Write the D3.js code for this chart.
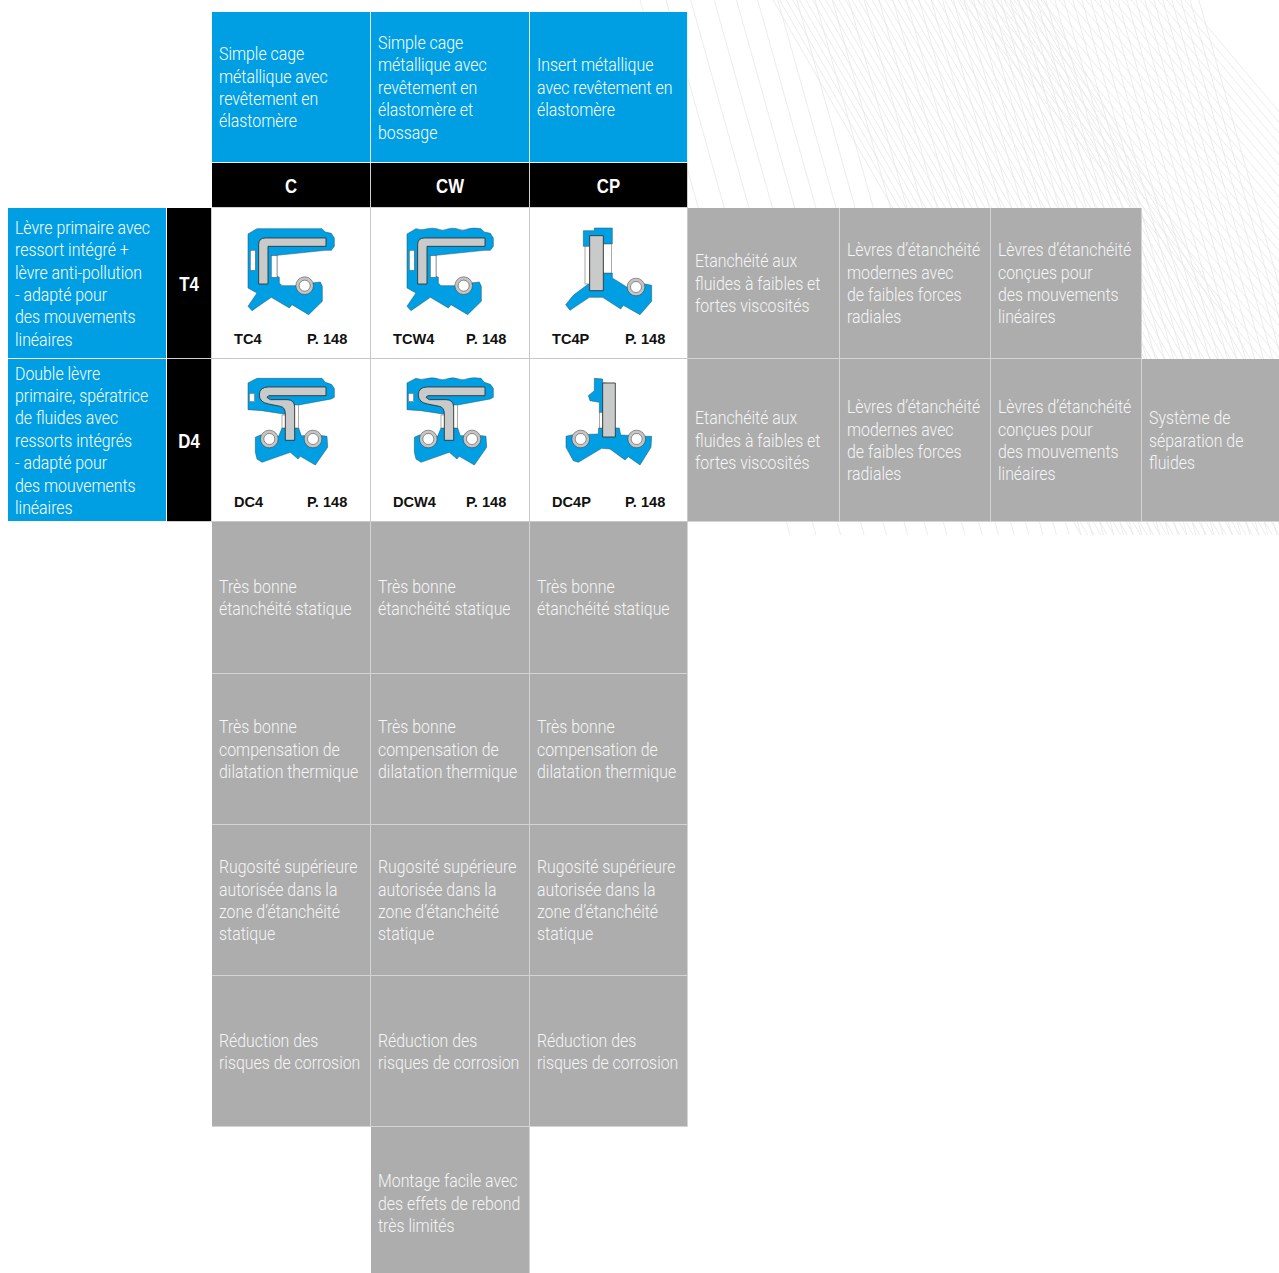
<!DOCTYPE html>
<html>
<head>
<meta charset="utf-8">
<script src="https://cdn.jsdelivr.net/npm/d3@7"></script>
<style>
  html, body { margin: 0; padding: 0; background: #fff; }
  svg { display: block; }
  .txt { font-family: Roboto, "Liberation Sans", sans-serif; font-weight: 300; font-size: 19px; fill: #fff; }
  .grey .txt { fill: #f6f6f6; }
  .key { font-family: "Liberation Sans", sans-serif; font-weight: bold; font-size: 21px; fill: #fff; text-anchor: middle; }
  .ref { font-family: "Liberation Sans", sans-serif; font-weight: bold; font-size: 14.6px; fill: #111; }
</style>
</head>
<body>
<div id="chart"></div>
<script>
const width = 1279;
const height = 1273;

// table content
const seal_types = ['C', 'CW', 'CP'];
const seal_type_texts = [
  'Simple cage\nmétallique avec\nrevêtement en\nélastomère',
  'Simple cage\nmétallique avec\nrevêtement en\nélastomère et\nbossage',
  'Insert métallique\navec revêtement en\nélastomère'
];
const lip_types = ['T4', 'D4'];
const lip_type_texts = [
  'Lèvre primaire avec\nressort intégré +\nlèvre anti-pollution\n- adapté pour\ndes mouvements\nlinéaires',
  'Double lèvre\nprimaire, spératrice\nde fluides avec\nressorts intégrés\n- adapté pour\ndes mouvements\nlinéaires'
];
const product_names = [['TC4', 'TCW4', 'TC4P'], ['DC4', 'DCW4', 'DC4P']];
const product_page = 'P. 148';
const lip_benefit_cols = ['F1', 'F2', 'F3', 'F4'];
const lip_benefits = [
  ['Etanchéité aux\nfluides à faibles et\nfortes viscosités',
   'Lèvres d’étanchéité\nmodernes avec\nde faibles forces\nradiales',
   'Lèvres d’étanchéité\nconçues pour\ndes mouvements\nlinéaires'],
  ['Etanchéité aux\nfluides à faibles et\nfortes viscosités',
   'Lèvres d’étanchéité\nmodernes avec\nde faibles forces\nradiales',
   'Lèvres d’étanchéité\nconçues pour\ndes mouvements\nlinéaires',
   'Système de\nséparation de\nfluides']
];
const benefit_rows = ['B1', 'B2', 'B3', 'B4'];
const benefit_texts = [
  'Très bonne\nétanchéité statique',
  'Très bonne\ncompensation de\ndilatation thermique',
  'Rugosité supérieure\nautorisée dans la\nzone d’étanchéité\nstatique',
  'Réduction des\nrisques de corrosion'
];
const extra_benefit = 'Montage facile avec\ndes effets de rebond\ntrès limités';

// grid lines of the table (last row runs off the page)
const col_keys = ['desc', 'lip', 'C', 'CW', 'CP', 'F1', 'F2', 'F3', 'F4', 'end'];
const col_edges = [8, 167, 212, 371, 530, 688, 840, 991, 1142, 1280];
const row_keys = ['head', 'type', 'T4', 'D4', 'B1', 'B2', 'B3', 'B4', 'B5', 'end'];
const row_edges = [12, 163, 208, 359, 522, 674, 825, 976, 1127, 1280];

const x = d3.scaleOrdinal(col_keys, col_edges);
const y = d3.scaleOrdinal(row_keys, row_edges);
const next = (keys, k) => keys[keys.indexOf(k) + 1];

const blue = '#009fe3';
const grey = '#adadad';
const line_grey = '#d4d4d4';

const svg = d3.select('#chart')
  .append('svg')
    .attr('width', width)
    .attr('height', height);

// faint line texture behind the table, top right
const bg = svg.append('g')
  .attr('fill', 'none')
  .attr('stroke', '#e7e7e7')
  .attr('stroke-width', 0.8);

let texture = (x0s, dx, y1) => {
  bg.selectAll(null)
    .data(x0s)
    .enter().append('line')
      .attr('x1', d => d)
      .attr('y1', 0)
      .attr('x2', d => d + dx)
      .attr('y2', y1);
};
// wide fan on the left, getting denser to the right
let fan = [];
let p = 640;
while (p < 1200) { fan.push(p); p += Math.max(9, 26 - (p - 640) * 0.05); }
texture(fan, 150, 535);
texture(d3.range(773, 1050, 6.6), 308, 535);
texture(d3.range(960, 1190, 9), 450, 535);

// text is squeezed sideways to get the condensed look of the original
const probe = svg.append('text').attr('class', 'txt').text('Rugosité supérieure');
const squeeze = 138.5 / probe.node().getComputedTextLength();
probe.remove();

let cell = (col, row, fill, sep) => {
  const cw = x(next(col_keys, col)) - x(col);
  const ch = y(next(row_keys, row)) - y(row);
  const g = svg.append('g')
    .attr('class', fill === grey ? 'grey' : null)
    .attr('transform', `translate(${x(col)},${y(row)})`);
  g.append('rect')
    .attr('width', cw).attr('height', ch)
    .attr('fill', sep);
  g.append('rect')
    .attr('width', cw - 1).attr('height', ch - 1)
    .attr('fill', fill);
  g.cw = cw;
  g.ch = ch;
  return g;
};

let wrapped = (g, text) => {
  const lines = text.split('\n');
  g.selectAll('text.txt')
    .data(lines)
    .enter().append('text')
      .attr('class', 'txt')
      .attr('transform', (d, i) => `translate(7,${g.ch / 2 + (i - (lines.length - 1) / 2) * 22.4 + 6.2}) scale(${squeeze},1)`)
      .text(d => d);
};

// seal drawings, in crop units (3 units = 1 px) from the top left of the cell
const wave_top = 'L135,62 Q150,68 165,63 Q185,58 200,63 Q215,70 230,63 Q245,58 260,63 Q275,70 290,63 Q305,58 330,62';
const wave_top_d = 'L135,58 Q150,64 165,59 Q185,54 200,59 Q215,66 230,59 Q245,54 260,59 Q275,66 290,59 Q305,54 330,58';

let tc_body = top => `M108,78 ${top} L340,72 L358,76 L367,90 L367,115 L358,127 L340,127 L195,142 L195,205 L202,208 L202,225 L210,233 L255,233 L300,225 L325,222 L331,235 L331,280 L290,320 L240,290 L232,300 L178,268 L120,308 L108,295 L135,255 L108,240 Z`;
const tc_metal = 'M140,228 L140,110 Q140,90 160,90 L342,90 L342,115 L168,115 L168,228 Z';
let dc_body_top = top => `M108,72 ${top} L340,70 L358,76 L367,88 L367,115 L358,120 L260,138 L220,165 L215,165 L150,155 L108,152 Z`;
const dc_metal = 'M342,84 L170,84 Q142,84 142,108 Q142,130 170,135 L205,142 Q220,145 220,165 L220,244 L248,244 L248,145 Q248,122 225,122 L175,122 L165,115 L170,110 L342,110 Z';
const dc_body_low = 'M130,235 L145,228 L200,232 L210,207 L260,207 L268,230 L333,230 L345,232 L347,265 L310,318 L265,292 L258,300 L235,280 L150,310 L135,300 L130,280 Z';

const glyphs = {
  TC4: { holes: [[115, 127, 15, 60], [178, 143, 17, 65]], body: [tc_body('L135,62 L330,62')], metal: tc_metal, rings: [[278, 233]] },
  TCW4: { holes: [[115, 127, 15, 60], [178, 143, 17, 65]], body: [tc_body(wave_top)], metal: tc_metal, rings: [[278, 233]] },
  TC4P: {
    holes: [[165, 115, 14, 113], [220, 108, 25, 87]],
    body: [
      'M160,68 L193,68 L193,60 L247,60 L247,108 L193,108 L193,115 L160,115 Z',
      'M247,195 L247,210 L290,237 L345,228 L365,232 L365,280 L330,320 L280,292 L272,303 L218,268 L178,268 L120,307 L107,290 L130,262 L179,225 L220,195 Z'
    ],
    metal: 'M179,83 L220,83 L220,248 L179,248 Z',
    rings: [[318, 237]]
  },
  DC4: { holes: [[112, 103, 16, 25], [210, 168, 10, 39], [248, 138, 12, 69]], body: [dc_body_top('L135,58 L330,58'), dc_body_low], metal: dc_metal, rings: [[172, 240], [303, 240]] },
  DCW4: { holes: [[112, 103, 16, 25], [210, 168, 10, 39], [248, 138, 12, 69]], body: [dc_body_top(wave_top_d), dc_body_low], metal: dc_metal, rings: [[172, 240], [303, 240]] },
  DC4P: {
    holes: [[208, 160, 10, 47]],
    body: [
      'M193,58 L218,60 L218,72 L230,72 L230,160 L208,160 L208,130 L180,125 L175,110 L193,95 Z',
      'M206,207 L268,207 L272,228 L350,232 L365,232 L363,265 L330,318 L295,293 L285,303 L240,270 L215,268 L145,310 L130,305 L108,265 L108,232 L125,228 L205,225 Z'
    ],
    metal: 'M218,72 L256,72 L256,234 L218,234 Z',
    rings: [[152, 240], [320, 240]]
  }
};

let draw_glyph = (g, name) => {
  const s = glyphs[name];
  const art = g.append('g').attr('transform', 'scale(0.3333)');
  art.selectAll('path.body').data(s.body).enter().append('path')
    .attr('class', 'body')
    .attr('d', d => d)
    .attr('fill', blue)
    .attr('stroke', '#1d4f66')
    .attr('stroke-width', 1.5);
  art.selectAll('rect').data(s.holes).enter().append('rect')
    .attr('x', d => d[0]).attr('y', d => d[1])
    .attr('width', d => d[2]).attr('height', d => d[3])
    .attr('fill', '#fff')
    .attr('stroke', '#555')
    .attr('stroke-width', 1.5);
  art.append('path')
    .attr('d', s.metal)
    .attr('fill', '#c9cbca')
    .attr('stroke', '#2b2b2b')
    .attr('stroke-width', 2.5);
  art.selectAll('circle.ring').data(s.rings).enter().append('circle')
    .attr('class', 'ring')
    .attr('cx', d => d[0]).attr('cy', d => d[1])
    .attr('r', 21.5)
    .attr('fill', '#fff')
    .attr('stroke', '#c4c5c4')
    .attr('stroke-width', 10);
  art.selectAll('circle.edge').data(s.rings.flatMap(d => [[d[0], d[1], 26.5], [d[0], d[1], 16.5]])).enter().append('circle')
    .attr('class', 'edge')
    .attr('cx', d => d[0]).attr('cy', d => d[1])
    .attr('r', d => d[2])
    .attr('fill', 'none')
    .attr('stroke', '#333')
    .attr('stroke-width', 1.5);
};

let key_label = (g, t) => {
  g.append('text')
    .attr('class', 'key')
    .attr('transform', `translate(${g.cw / 2 - 0.5},${g.ch / 2 + 7}) scale(0.8,1)`)
    .text(t);
};

// header rows
seal_types.forEach((t, i) => {
  wrapped(cell(t, 'head', blue, '#e4f3fb'), seal_type_texts[i]);
  key_label(cell(t, 'type', '#000', '#cfcfcf'), t);
});

// lip rows
lip_types.forEach((t, r) => {
  wrapped(cell('desc', t, blue, '#fff'), lip_type_texts[r]);
  key_label(cell('lip', t, '#000', '#cfcfcf'), t);

  seal_types.forEach((c, i) => {
    const g = cell(c, t, '#fff', '#c8c8c8');
    draw_glyph(g, product_names[r][i]);
    g.append('text').attr('class', 'ref')
      .attr('x', 22).attr('y', g.ch - 15)
      .text(product_names[r][i]);
    g.append('text').attr('class', 'ref')
      .attr('x', 95).attr('y', g.ch - 15)
      .text(product_page);
  });

  lip_benefits[r].forEach((b, j) => {
    wrapped(cell(lip_benefit_cols[j], t, grey, line_grey), b);
  });
});

// benefit rows under the seal columns
benefit_rows.forEach((row, r) => {
  seal_types.forEach(c => {
    wrapped(cell(c, row, grey, line_grey), benefit_texts[r]);
  });
});
wrapped(cell('CW', 'B5', grey, line_grey), extra_benefit);
</script>
</body>
</html>
